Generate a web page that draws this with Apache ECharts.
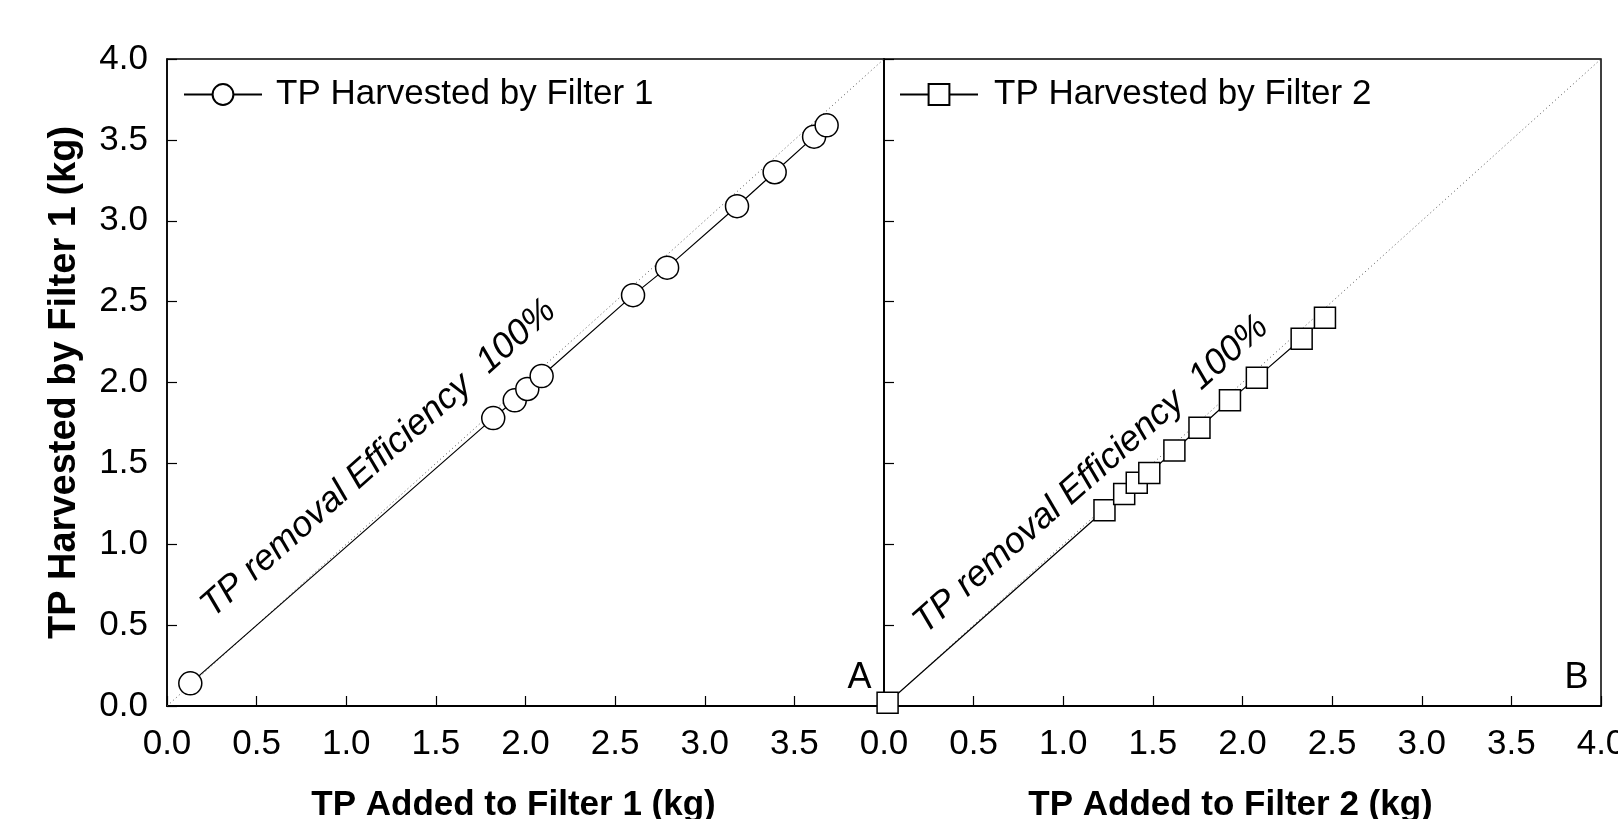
<!DOCTYPE html>
<html>
<head>
<meta charset="utf-8">
<script src="https://cdn.jsdelivr.net/npm/echarts@6/dist/echarts.min.js"></script>
<style>
html, body { margin: 0; padding: 0; background: #fff; }
#chart { width: 1618px; height: 819px; }
</style>
</head>
<body>
<div id="chart"></div>
<script>
// panel A - filter 1
const filter1Added = [0.13, 1.82, 1.94, 2.01, 2.09, 2.60, 2.79, 3.18, 3.39, 3.61, 3.68]
const filter1Harvested = [0.14, 1.78, 1.89, 1.96, 2.04, 2.54, 2.71, 3.09, 3.30, 3.52, 3.59]
// panel B - filter 2
const filter2Added = [0.02, 1.23, 1.34, 1.41, 1.48, 1.62, 1.76, 1.93, 2.08, 2.33, 2.46]
const filter2Harvested = [0.02, 1.21, 1.31, 1.38, 1.44, 1.58, 1.72, 1.89, 2.03, 2.27, 2.40]
// 1:1 line (100% removal)
const oneToOne = [0, 4]
const tickLabels = ['0.0', '0.5', '1.0', '1.5', '2.0', '2.5', '3.0', '3.5', '4.0']
const tickLabelsA = ['0.0', '0.5', '1.0', '1.5', '2.0', '2.5', '3.0', '3.5', '']

const FONT = '"Liberation Sans", Arial, sans-serif'

function pairs(xs, ys) {
  return xs.map((x, i) => [x, ys[i]])
}

function xAxisOpt(grid, labels, name) {
  return {
    type: 'value', gridIndex: grid, min: 0, max: 4, interval: 0.5,
    name: name, nameLocation: 'middle', nameGap: 82,
    nameTextStyle: { fontFamily: FONT, fontSize: 35, fontWeight: 'bold', color: '#000', padding: [0, 24, 0, 0] },
    axisLine: { show: true, lineStyle: { color: '#000', width: 2 } },
    axisTick: { show: true, inside: true, length: 10, lineStyle: { color: '#000', width: 1.2 } },
    axisLabel: {
      margin: 21, fontFamily: FONT, fontSize: 35, color: '#000',
      showMaxLabel: true, formatter: (v) => labels[Math.round(v / 0.5)]
    },
    splitLine: { show: false }
  }
}

function yAxisOpt(grid, showLabels, name) {
  return {
    type: 'value', gridIndex: grid, min: 0, max: 4, interval: 0.5,
    name: name, nameLocation: 'middle', nameGap: 83,
    nameTextStyle: { fontFamily: FONT, fontSize: 38, fontWeight: 'bold', color: '#000' },
    axisLine: { show: true, lineStyle: { color: '#000', width: 1.5 } },
    axisTick: { show: true, inside: true, length: 10, lineStyle: { color: '#000', width: 1.2 } },
    axisLabel: {
      show: showLabels, margin: 19, fontFamily: FONT, fontSize: 35, color: '#000',
      formatter: (v) => tickLabels[Math.round(v / 0.5)]
    },
    splitLine: { show: false }
  }
}

const myChart = echarts.init(document.getElementById('chart'))

const option = {
  animation: false,
  backgroundColor: '#fff',
  grid: [
    { left: 167, top: 59, width: 717, height: 647, show: true, borderColor: '#000', borderWidth: 1.5, outerBoundsMode: 'none', containLabel: false },
    { left: 884, top: 59, width: 717, height: 647, show: true, borderColor: '#000', borderWidth: 1.5, outerBoundsMode: 'none', containLabel: false }
  ],
  xAxis: [
    xAxisOpt(0, tickLabelsA, 'TP Added to Filter 1 (kg)'),
    xAxisOpt(1, tickLabels, 'TP Added to Filter 2 (kg)')
  ],
  yAxis: [
    yAxisOpt(0, true, 'TP Harvested by Filter 1 (kg)'),
    yAxisOpt(1, false, '')
  ],
  legend: [
    {
      data: ['TP Harvested by Filter 1'], left: 178, top: 72,
      itemWidth: 78, itemHeight: 26,
      textStyle: { fontFamily: FONT, fontSize: 35, color: '#000', padding: [0, 0, 0, 9] }
    },
    {
      data: ['TP Harvested by Filter 2'], left: 894, top: 72,
      itemWidth: 78, itemHeight: 26,
      textStyle: { fontFamily: FONT, fontSize: 35, color: '#000', padding: [0, 0, 0, 11] }
    }
  ],
  series: [
    {
      name: 'ref1', type: 'line', xAxisIndex: 0, yAxisIndex: 0,
      data: pairs(oneToOne, oneToOne), symbol: 'none', silent: true,
      lineStyle: { color: '#555', width: 1, type: [1, 3] }, z: 1
    },
    {
      name: 'ref2', type: 'line', xAxisIndex: 1, yAxisIndex: 1,
      data: pairs(oneToOne, oneToOne), symbol: 'none', silent: true,
      lineStyle: { color: '#555', width: 1, type: [1, 3] }, z: 1
    },
    {
      name: 'TP Harvested by Filter 1', type: 'line', xAxisIndex: 0, yAxisIndex: 0,
      data: pairs(filter1Added, filter1Harvested),
      symbol: 'circle', symbolSize: 23,
      lineStyle: { color: '#000', width: 1.2 },
      itemStyle: { color: '#fff', borderColor: '#000', borderWidth: 1.5 }, z: 3
    },
    {
      name: 'TP Harvested by Filter 2', type: 'line', xAxisIndex: 1, yAxisIndex: 1,
      data: pairs(filter2Added, filter2Harvested),
      symbol: 'rect', symbolSize: 21,
      lineStyle: { color: '#000', width: 1.2 },
      itemStyle: { color: '#fff', borderColor: '#000', borderWidth: 1.5 }, z: 3
    }
  ]
}
myChart.setOption(option)

// annotations placed in data coordinates
const angle = 41.5 * Math.PI / 180
const pA = myChart.convertToPixel({ gridIndex: 0 }, [1.18, 1.53])
const pB = myChart.convertToPixel({ gridIndex: 1 }, [1.155, 1.43])
const lA = myChart.convertToPixel({ gridIndex: 0 }, [3.93, 0.17])
const lB = myChart.convertToPixel({ gridIndex: 1 }, [3.93, 0.17])
const effText = 'TP removal Efficiency  100%'
myChart.setOption({
  graphic: [
    { type: 'text', x: pA[0], y: pA[1], rotation: angle, style: { text: effText, fontFamily: FONT, fontSize: 36, fontStyle: 'italic', fill: '#000', align: 'center', verticalAlign: 'middle' } },
    { type: 'text', x: pB[0], y: pB[1], rotation: angle, style: { text: effText, fontFamily: FONT, fontSize: 36, fontStyle: 'italic', fill: '#000', align: 'center', verticalAlign: 'middle' } },
    { type: 'text', x: lA[0], y: lA[1], style: { text: 'A', fontFamily: FONT, fontSize: 36, fill: '#000', align: 'right', verticalAlign: 'middle' } },
    { type: 'text', x: lB[0], y: lB[1], style: { text: 'B', fontFamily: FONT, fontSize: 36, fill: '#000', align: 'right', verticalAlign: 'middle' } }
  ]
})
</script>
</body>
</html>
